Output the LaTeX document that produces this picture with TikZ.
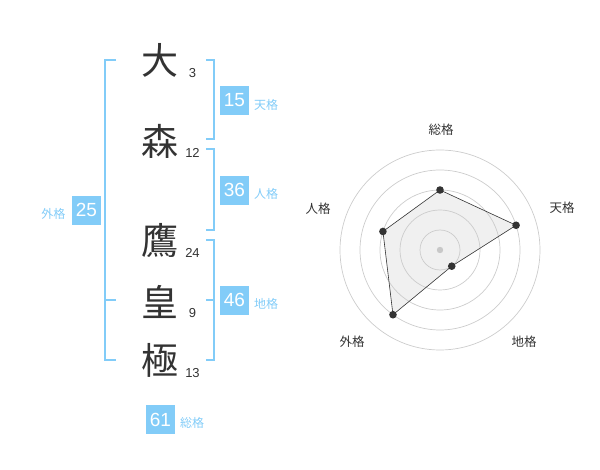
\documentclass[tikz,border=0pt]{standalone}
\usepackage{fontspec}
\setmainfont{Liberation Sans}
\newfontfamily\cjk{Noto Sans CJK JP}
\definecolor{sky}{HTML}{82CCF8}
\definecolor{ink}{HTML}{333333}
\definecolor{ring}{HTML}{CCCCCC}
\definecolor{area}{HTML}{F0F0F0}
\definecolor{hub}{HTML}{C8C8C8}
\begin{document}
\begin{tikzpicture}[x=1pt,y=-1pt,
  kanji/.style={font=\cjk\fontsize{37}{37}\selectfont, text=ink, inner sep=0pt},
  strokes/.style={font=\fontsize{13}{13}\selectfont, text=ink, inner sep=0pt},
  valbox/.style={fill=sky, text=white, minimum size=29pt, inner sep=0pt, font=\fontsize{19}{19}\selectfont},
  kaku/.style={font=\cjk\fontsize{12}{12}\selectfont, text=sky, inner sep=0pt},
  brk/.style={draw=sky, line width=1.6pt},
  rlabel/.style={font=\cjk\fontsize{12.5}{12.5}\selectfont, text=ink, inner sep=0pt}]
\useasboundingbox (0,0) rectangle (600,470);
% kanji
\node[kanji] (k1) at (160,60) {大};
\node[kanji] (k2) at (160,141.5) {森};
\node[kanji] (k3) at (160,240) {鷹};
\node[kanji] (k4) at (160,301.5) {皇};
\node[kanji] (k5) at (160,360) {極};
\node[strokes] (s1) at (192.5,72.7) {3};
\node[strokes] (s2) at (192.5,153.3) {12};
\node[strokes] (s3) at (192.5,253.3) {24};
\node[strokes] (s4) at (192.5,312.7) {9};
\node[strokes] (s5) at (192.5,372.7) {13};
% brackets
\draw[brk] (116,60) -- (105,60) -- (105,360) -- (116,360);
\draw[brk] (105,300) -- (116,300);
\draw[brk] (206,60) -- (214,60) -- (214,139) -- (206,139);
\draw[brk] (206,149) -- (214,149) -- (214,230) -- (206,230);
\draw[brk] (206,240) -- (214,240) -- (214,360) -- (206,360);
\draw[brk] (206,300) -- (214,300);
% value boxes
\node[valbox] (b1) at (234.5,100.3) {15};
\node[kaku] (l1) at (266,105) {天格};
\node[valbox] (b2) at (234.5,190.3) {36};
\node[kaku] (l2) at (266,194) {人格};
\node[valbox] (b3) at (86.5,210.3) {25};
\node[kaku] (l3) at (53.5,213.5) {外格};
\node[valbox] (b4) at (234.5,300.3) {46};
\node[kaku] (l4) at (266,304) {地格};
\node[valbox] (b5) at (160.5,419.5) {61};
\node[kaku] (l5) at (192,422.5) {総格};
% radar
\begin{scope}[shift={(440,250)}, x=1pt, y=1pt]
  \coordinate (p1) at (90:60);
  \coordinate (p2) at (18:80);
  \coordinate (p3) at (-54:20);
  \coordinate (p4) at (-126:80);
  \coordinate (p5) at (162:60);
  \fill[area] (p1) -- (p2) -- (p3) -- (p4) -- (p5) -- cycle;
  \foreach \r in {20,40,60,80,100} \draw[ring, line width=0.7pt] (0,0) circle (\r);
  \fill[hub] (0,0) circle (3.2);
  \draw[ink, line width=0.6pt] (p1) -- (p2) -- (p3) -- (p4) -- (p5) -- cycle;
  \foreach \p in {p1,p2,p3,p4,p5} \fill[ink] (\p) circle (3.8);
\end{scope}
\node[rlabel] (r1) at (441,130) {総格};
\node[rlabel] (r2) at (562,208) {天格};
\node[rlabel] (r3) at (318,209) {人格};
\node[rlabel] (r4) at (352,342) {外格};
\node[rlabel] (r5) at (524,342) {地格};
\end{tikzpicture}
\end{document}
